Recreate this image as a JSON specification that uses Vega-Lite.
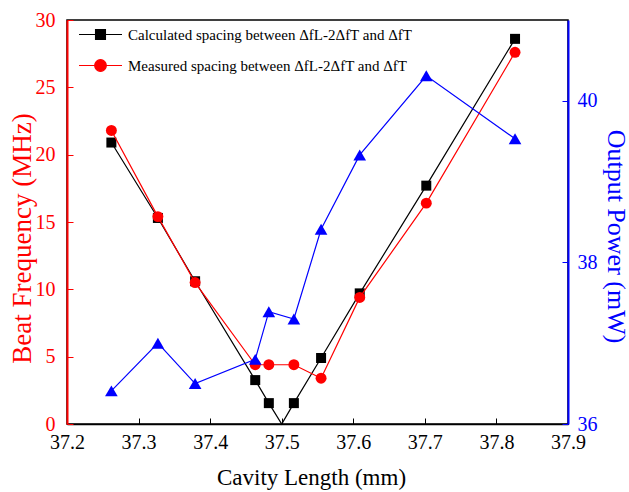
{
  "$schema": "https://vega.github.io/schema/vega-lite/v6.json",
  "width": 501,
  "height": 404,
  "autosize": {"type": "none"},
  "padding": {"left": 67, "top": 20, "right": 61, "bottom": 68},
  "background": "white",
  "config": {
    "font": "Liberation Serif",
    "view": {"stroke": "black", "strokeWidth": 1.5},
    "axis": {"grid": false, "labelFont": "Liberation Serif", "titleFont": "Liberation Serif", "titleFontWeight": "normal", "labelFontSize": 20}
  },
  "data": {
    "values": [
      {"L": 37.262, "calc": 20.9, "meas": 21.8, "power": 36.41},
      {"L": 37.327, "calc": 15.3, "meas": 15.4, "power": 37.0},
      {"L": 37.379, "calc": 10.6, "meas": 10.5, "power": 36.5},
      {"L": 37.463, "calc": 3.26, "meas": 4.4, "power": 36.8},
      {"L": 37.482, "calc": 1.55, "meas": 4.4, "power": 37.39},
      {"L": 37.5, "calc": 0},
      {"L": 37.517, "calc": 1.55, "meas": 4.4, "power": 37.3},
      {"L": 37.555, "calc": 4.9, "meas": 3.4, "power": 38.41},
      {"L": 37.609, "calc": 9.7, "meas": 9.4, "power": 39.33},
      {"L": 37.702, "calc": 17.7, "meas": 16.4, "power": 40.31},
      {"L": 37.826, "calc": 28.6, "meas": 27.6, "power": 39.53}
    ]
  },
  "encoding": {
    "x": {
      "field": "L", "type": "quantitative",
      "scale": {"domain": [37.2, 37.9], "nice": false, "zero": false},
      "axis": {
        "title": "Cavity Length (mm)", "titleFont": "Liberation Serif", "titleFontSize": 23, "titlePadding": 14, "titleX": 244,
        "labelFont": "Liberation Serif", "labelFontSize": 20,
        "values": [37.2, 37.3, 37.4, 37.5, 37.6, 37.7, 37.8, 37.9], "format": ".1f",
        "tickSize": -6, "labelPadding": 14, "domainColor": "black", "tickColor": "black", "labelColor": "black",
        "labelOverlap": false, "labelFlush": false, "labelBound": false, "domainWidth": 1.5
      }
    }
  },
  "layer": [
    {
      "layer": [
        {
          "mark": {"type": "line", "strokeWidth": 1.2},
          "transform": [{"filter": "isValid(datum.calc)"}],
          "encoding": {
            "y": {"field": "calc", "type": "quantitative"},
            "color": {"datum": "Calculated spacing between  ΔfL-2ΔfT and ΔfT"}
          }
        },
        {
          "mark": {"type": "point", "shape": "square", "filled": true, "opacity": 1, "size": 100, "color": "black"},
          "transform": [{"filter": "datum.calc > 0"}],
          "encoding": {"y": {"field": "calc", "type": "quantitative"}}
        },
        {
          "mark": {"type": "line", "strokeWidth": 1.2},
          "transform": [{"filter": "isValid(datum.meas)"}],
          "encoding": {
            "y": {"field": "meas", "type": "quantitative"},
            "color": {"datum": "Measured spacing between  ΔfL-2ΔfT and ΔfT"}
          }
        },
        {
          "mark": {"type": "point", "shape": "circle", "filled": true, "opacity": 1, "size": 120, "color": "#ff0000"},
          "transform": [{"filter": "isValid(datum.meas)"}],
          "encoding": {
            "y": {
              "field": "meas", "type": "quantitative",
              "scale": {"domain": [0, 30], "nice": false},
              "axis": {
                "title": "Beat Frequency (MHz)", "titleFont": "Liberation Serif", "titleFontSize": 27, "titleColor": "#ff0000", "titlePadding": -1, "titleY": 218,
                "labelFont": "Liberation Serif", "labelFontSize": 20,
                "values": [0, 5, 10, 15, 20, 25, 30], "format": "d", "tickSize": -6, "labelPadding": 18,
                "domainColor": "#ff0000", "tickColor": "#ff0000", "labelColor": "#ff0000", "domainWidth": 2,
                "labelOverlap": false, "labelFlush": false, "labelBound": false
              }
            }
          }
        }
      ],
      "encoding": {
        "y": {"type": "quantitative", "scale": {"domain": [0, 30], "nice": false}},
        "color": {
          "scale": {"domain": ["Calculated spacing between  ΔfL-2ΔfT and ΔfT", "Measured spacing between  ΔfL-2ΔfT and ΔfT"], "range": ["black", "#ff0000"]},
          "legend": {
            "title": null, "orient": "none", "legendX": 11, "legendY": -8, "padding": 0,
            "labelFont": "Liberation Serif", "labelFontSize": 15, "labelColor": "black", "labelLimit": 400,
            "symbolSize": 1849, "symbolStrokeWidth": 1.2, "labelOffset": 5, "rowPadding": -13,
            "encode": {
              "symbols": {
                "update": {
                  "shape": {"signal": "indexof(datum.value, 'Calc') === 0 ? 'M-1,0H1M-0.23,-0.23H0.23V0.23H-0.23Z' : 'M-1,0H1M0.27,0A0.27,0.27 0 1,1 -0.27,0A0.27,0.27 0 1,1 0.27,0Z'"},
                  "fill": {"scale": "color", "field": "value"},
                  "fillOpacity": {"value": 1}
                }
              }
            }
          }
        }
      }
    },
    {
      "layer": [
        {
          "mark": {"type": "line", "strokeWidth": 1.2, "color": "#0000ff"},
          "transform": [{"filter": "isValid(datum.power)"}],
          "encoding": {"y": {"field": "power", "type": "quantitative"}}
        },
        {
          "mark": {"type": "point", "shape": "triangle-up", "filled": true, "opacity": 1, "size": 160, "color": "#0000ff"},
          "transform": [{"filter": "isValid(datum.power)"}],
          "encoding": {
            "y": {
              "field": "power", "type": "quantitative",
              "scale": {"domain": [36, 41], "nice": false, "zero": false},
              "axis": {
                "orient": "right", "title": "Output Power (mW)", "titleFont": "Liberation Serif", "titleFontSize": 26, "titleColor": "#0000ff", "titlePadding": 5, "titleY": 216,
                "labelFont": "Liberation Serif", "labelFontSize": 20,
                "values": [36, 38, 40], "format": "d", "tickSize": -6, "labelPadding": 15,
                "domainColor": "#0000ff", "tickColor": "#0000ff", "labelColor": "#0000ff", "domainWidth": 2,
                "labelOverlap": false, "labelFlush": false, "labelBound": false
              }
            }
          }
        }
      ],
      "encoding": {"y": {"type": "quantitative", "scale": {"domain": [36, 41], "nice": false, "zero": false}}}
    }
  ],
  "resolve": {"scale": {"y": "independent"}, "axis": {"y": "independent"}}
}
